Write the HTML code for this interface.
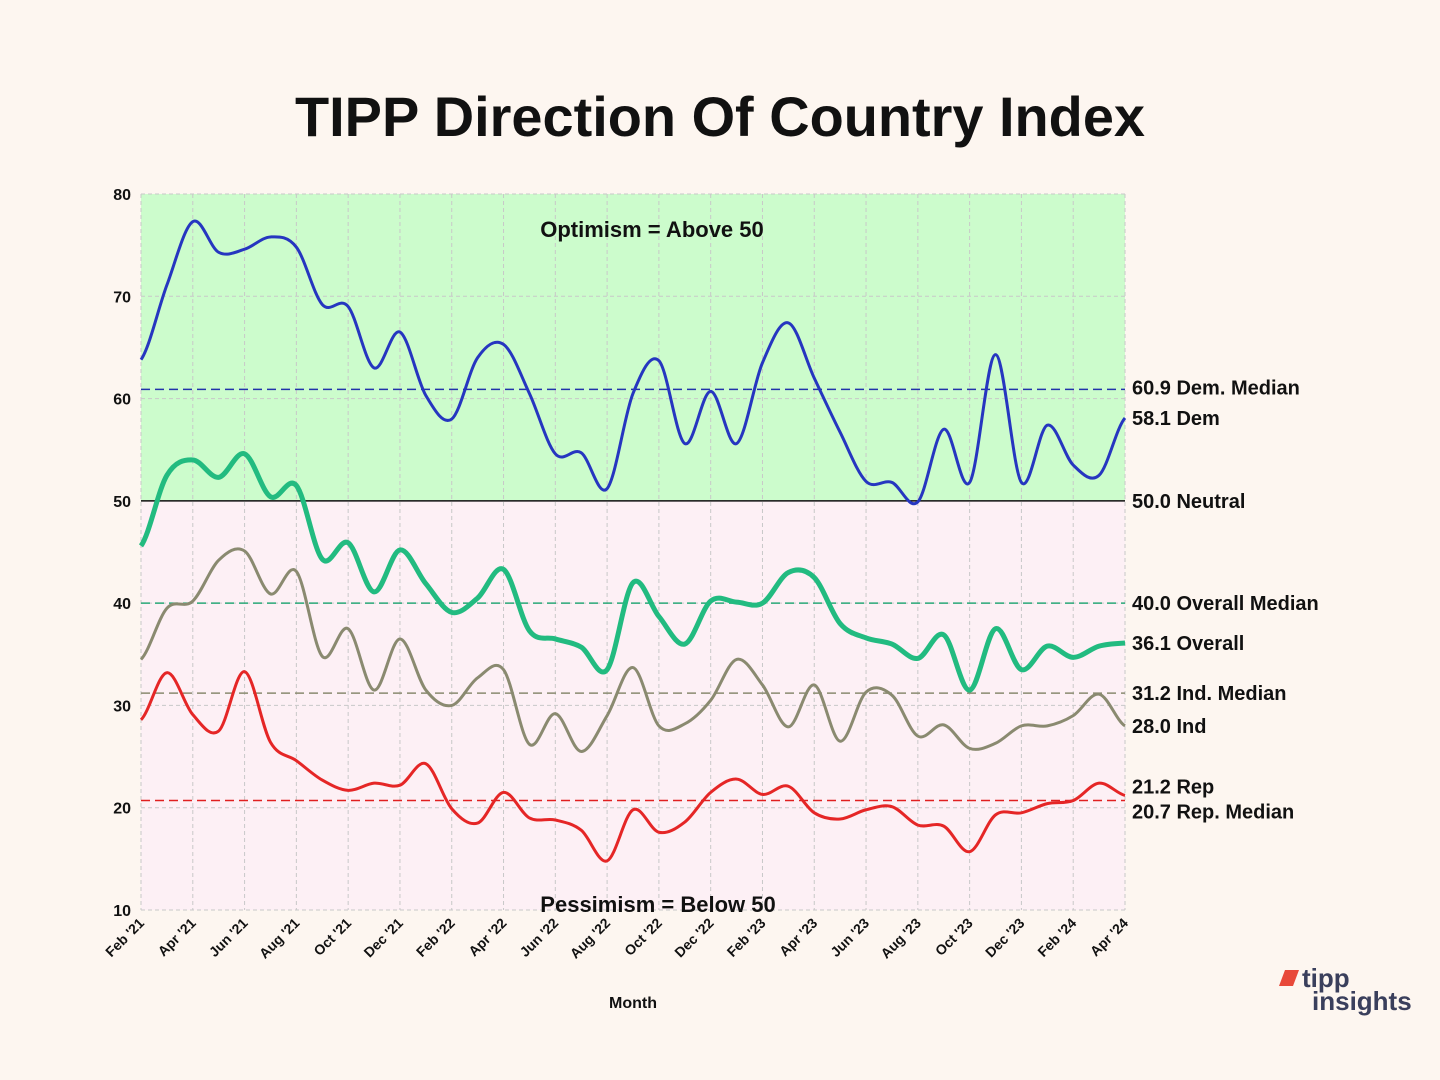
<!DOCTYPE html>
<html><head><meta charset="utf-8"><style>
body{margin:0;background:#fdf6f0;font-family:"Liberation Sans",sans-serif}
svg{display:block}
</style></head><body>
<svg width="1440" height="1080" id="chart">
<rect width="1440" height="1080" fill="#fdf6f0"/>
<text x="720" y="136" text-anchor="middle" font-size="56" font-weight="bold" fill="#111" textLength="850" lengthAdjust="spacingAndGlyphs">TIPP Direction Of Country Index</text>
<g id="plot"></g>
<text x="633" y="1008" text-anchor="middle" font-size="16" font-weight="bold" fill="#111">Month</text>
<g>
<path d="M1285 970 l14 0 l-6 16 l-14 0 z" fill="#e8493a"/>
<text x="1302" y="987" font-size="26" font-weight="bold" fill="#3a3f5c">tipp</text>
<text x="1312" y="1010" font-size="26" font-weight="bold" fill="#3a3f5c">insights</text>
</g>
</svg>
<script>
const months=["Feb '21","Apr '21","Jun '21","Aug '21","Oct '21","Dec '21","Feb '22","Apr '22","Jun '22","Aug '22","Oct '22","Dec '22","Feb '23","Apr '23","Jun '23","Aug '23","Oct '23","Dec '23","Feb '24","Apr '24"];
const yTicks=[10,20,30,40,50,60,70,80];
const dem=[63.8,71.1,77.3,74.3,74.6,75.8,74.8,69.2,69,63,66.5,60.3,58,64,65.3,60.5,54.6,54.7,51.2,60.5,63.7,55.6,60.7,55.6,63.5,67.4,62,56.7,51.9,51.8,49.9,57,51.8,64.3,51.8,57.4,53.5,52.5,58.1];
const overall=[45.6,52.5,54,52.3,54.6,50.4,51.5,44.3,45.9,41.1,45.2,41.9,39.1,40.5,43.3,37.3,36.5,35.7,33.5,42,38.7,36,40.2,40.1,40,43,42.5,38,36.6,36,34.6,36.9,31.5,37.5,33.5,35.8,34.7,35.8,36.1];
const ind=[34.5,39.5,40.2,44.2,45.1,40.9,43.1,34.8,37.5,31.5,36.5,31.5,30,32.7,33.5,26.2,29.2,25.5,29,33.7,28,28.2,30.5,34.5,32,27.9,32,26.5,31.3,31,27,28.1,25.8,26.3,28,28,29,31.1,28];
const rep=[28.6,33.2,29.1,27.5,33.3,26.4,24.6,22.7,21.7,22.4,22.2,24.3,19.9,18.5,21.5,19,18.8,17.8,14.8,19.8,17.6,18.6,21.5,22.8,21.3,22.1,19.5,18.9,19.8,20.1,18.3,18.2,15.7,19.3,19.5,20.4,20.7,22.4,21.2];
const medians=[60.9,40.0,31.2,20.7];
const X0=141,X1=1125,Y0=910,Y1=194;
const x=i=>X0+(X1-X0)*i/38;
const y=v=>Y0-(v-10)*(Y0-Y1)/70;
const NS="http://www.w3.org/2000/svg";
const g=document.getElementById('plot');
function el(t,a,txt){const e=document.createElementNS(NS,t);for(const k in a)e.setAttribute(k,a[k]);if(txt!=null)e.textContent=txt;g.appendChild(e);return e;}
let e;
e=el('rect',{x:X0,y:Y1,width:X1-X0,height:y(50)-Y1,fill:'#ccfccc'});


e=el('rect',{x:X0,y:y(50),width:X1-X0,height:Y0-y(50),fill:'#fdf0f5'});


yTicks.forEach(v=>{
 e=el('line',{x1:X0,x2:X1,y1:y(v),y2:y(v),stroke:'#c8c8c8','stroke-dasharray':'4,3'});
 
 
 e=el('text',{x:X0-10,y:y(v)+6,'text-anchor':'end','font-size':16,'font-weight':'bold',fill:'#111'},v);
 
 
});
months.forEach((m,k)=>{
 const xx=x(k*2);
 e=el('line',{x1:xx,x2:xx,y1:Y1,y2:Y0,stroke:'#c8c8c8','stroke-dasharray':'4,3'});
 
 
 e=el('text',{x:xx+4,y:Y0+14,'text-anchor':'end','font-size':14,'font-weight':'bold',fill:'#111',transform:`rotate(-45 ${xx+4} ${Y0+14})`},m);
 
 
});
e=el('line',{x1:X0,x2:X1,y1:y(50),y2:y(50),stroke:'#111','stroke-width':1.5});


const medCols=['#2233aa','#2aa878','#8a8a70','#e02020'];
const medNames=['dem-median-line','overall-median-line','ind-median-line','rep-median-line'];
medians.forEach((v,i)=>{
 e=el('line',{x1:X0,x2:X1,y1:y(v),y2:y(v),stroke:medCols[i],'stroke-width':1.5,'stroke-dasharray':'9,5'});
 
 
});
function path(d){let s=`M${x(0)},${y(d[0])}`;for(let i=0;i<d.length-1;i++){const p0=d[Math.max(i-1,0)],p1=d[i],p2=d[i+1],p3=d[Math.min(i+2,d.length-1)];
 const xa=x(i),xb=x(i+1),dx=(xb-xa)/3;
 s+=` C${xa+dx},${y(p1+(p2-p0)/6)} ${xb-dx},${y(p2-(p3-p1)/6)} ${xb},${y(p2)}`;}return s;}
const series=[[rep,'#e52626',3,'rep-line'],[ind,'#8a8a70',3,'ind-line'],[overall,'#22bb80',5,'overall-line'],[dem,'#2636c0',3,'dem-line']];
series.forEach(s=>{
 e=el('path',{d:path(s[0]),fill:'none',stroke:s[1],'stroke-width':s[2],'stroke-linejoin':'round'});
 
 
});
const labels=[[60.9,'60.9 Dem. Median',-2],[dem[38],'58.1 Dem',0],[50,'50.0 Neutral',0],[40,'40.0 Overall Median',0],[overall[38],'36.1 Overall',0],[31.2,'31.2 Ind. Median',0],[ind[38],'28.0 Ind',0],[rep[38],'21.2 Rep',-9],[20.7,'20.7 Rep. Median',11]];
labels.forEach(l=>{
 e=el('text',{x:1132,y:y(l[0])+7+l[2],'font-size':20,'font-weight':'bold',fill:'#111'},l[1]);
 
 
});
e=el('text',{x:652,y:237,'text-anchor':'middle','font-size':22,'font-weight':'bold',fill:'#111'},'Optimism = Above 50');


e=el('text',{x:658,y:912,'text-anchor':'middle','font-size':22,'font-weight':'bold',fill:'#111'},'Pessimism = Below 50');


</script>
</body></html>
